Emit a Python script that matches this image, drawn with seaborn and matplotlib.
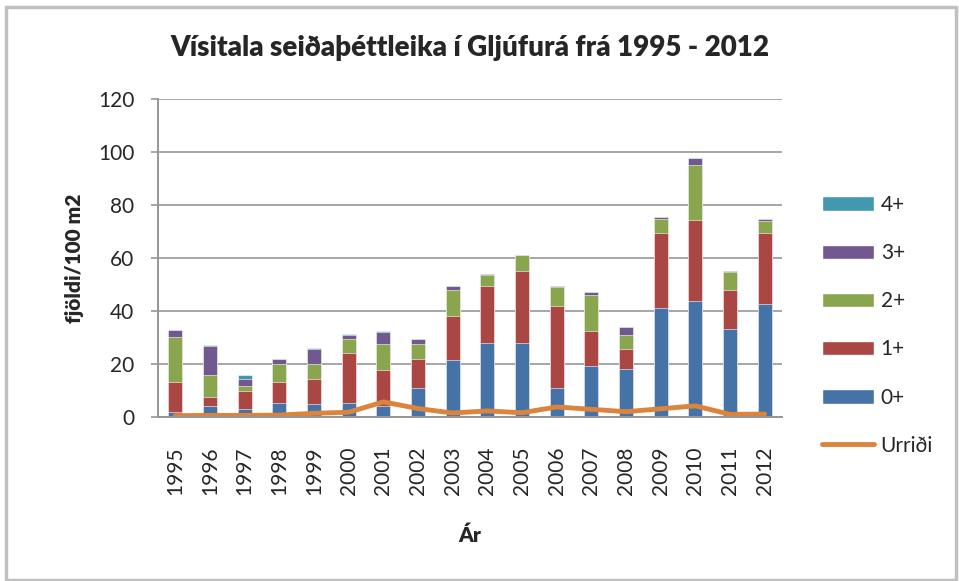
import matplotlib
matplotlib.use("Agg")
import matplotlib.pyplot as plt
from matplotlib.patches import Patch, Rectangle
from matplotlib.lines import Line2D
import numpy as np
import pandas as pd
import seaborn as sns

years = [str(y) for y in range(1995, 2013)]
age0 = [1.9, 4.2, 3.0, 5.4, 4.8, 5.1, 4.1, 10.8, 21.4, 27.8, 28.0, 11.1, 19.4, 18.0, 41.1, 43.6, 33.1, 42.5]
age1 = [11.4, 3.4, 6.9, 7.9, 9.6, 18.9, 13.6, 11.1, 16.6, 21.6, 27.1, 30.9, 12.9, 7.8, 28.5, 30.9, 15.0, 27.1]
age2 = [16.8, 8.2, 1.7, 6.7, 5.6, 5.4, 9.9, 5.7, 10.1, 4.0, 5.9, 6.9, 13.7, 5.1, 5.2, 20.6, 6.6, 4.4]
age3 = [2.6, 10.9, 2.8, 1.8, 5.7, 1.7, 4.3, 1.9, 1.5, 0.4, 0.1, 0.7, 1.0, 2.9, 0.5, 2.6, 0.5, 0.6]
age4 = [0.3, 0.4, 1.3, 0.2, 0.2, 0.3, 0.6, 0.1, 0, 0, 0, 0, 0, 0, 0, 0, 0, 0]
urridi = [0.5, 0.6, 0.6, 0.7, 1.4, 1.8, 5.7, 3.2, 1.5, 2.3, 1.6, 3.8, 2.9, 2.0, 3.1, 4.2, 1.0, 1.1]

labels = ["0+", "1+", "2+", "3+", "4+"]
colors = ["#4572A7", "#AA4643", "#89A54E", "#71588F", "#4198AF"]
line_color = "#DB843D"

sns.set_theme(style="white")
plt.rcParams["font.family"] = ["Lato", "DejaVu Sans"]

df = pd.DataFrame({"year": years, "0+": age0, "1+": age1, "2+": age2, "3+": age3, "4+": age4})
cum = df[labels].cumsum(axis=1)

fig = plt.figure(figsize=(9.59, 5.81), dpi=100)
ax = fig.add_axes([158 / 959, 1 - 417 / 581, 624 / 959, 318 / 581])

# stacked bars: draw cumulative totals from the top layer down
for lab, col in reversed(list(zip(labels, colors))):
    sns.barplot(x=df["year"], y=cum[lab], color=col, width=0.4, ax=ax,
                edgecolor="white", linewidth=0.4, saturation=1)

sns.lineplot(x=np.arange(len(years)), y=urridi, color=line_color, linewidth=3.5, ax=ax)

ax.set_ylim(0, 120)
ax.set_xlim(-0.5, len(years) - 0.5)
ax.set_yticks(range(0, 121, 20))
ax.yaxis.grid(True, color="#A6A6A6", linewidth=1.4)
ax.set_axisbelow(True)
for s in ["top", "right"]:
    ax.spines[s].set_visible(False)
for s in ["left", "bottom"]:
    ax.spines[s].set_color("#969696")
    ax.spines[s].set_linewidth(1.4)
ax.tick_params(axis="y", which="both", left=True, length=5, width=1.2, color="#969696",
               labelsize=15, pad=12)
ax.tick_params(axis="x", bottom=False, labelsize=15, pad=15)
plt.setp(ax.get_xticklabels(), rotation=90)

ax.set_xlabel("Ár", fontsize=15, fontweight="heavy", labelpad=22)
ax.set_ylabel("fjöldi/100 m2", fontsize=15, fontweight="heavy", labelpad=10)
fig.text(0.49, 0.918, "Vísitala seiðaþéttleika í Gljúfurá frá 1995 - 2012",
         ha="center", va="center", fontsize=20, fontweight="heavy")

handles = [Patch(facecolor=c, label=l) for l, c in zip(labels, colors)][::-1]
handles.append(Line2D([0], [0], color=line_color, linewidth=3.5, label="Urriði"))
fig.legend(handles=handles, loc="center left", bbox_to_anchor=(0.838, 0.44),
           frameon=False, fontsize=15, handlelength=2.5, handleheight=0.7,
           labelspacing=1.35, handletextpad=0.3)

fig.add_artist(Rectangle((6 / 959, 1 / 581), 950 / 959, 573 / 581, transform=fig.transFigure,
                         fill=False, edgecolor="#C0C0C0", linewidth=2.5))

fig.savefig("out.png", dpi=100)
